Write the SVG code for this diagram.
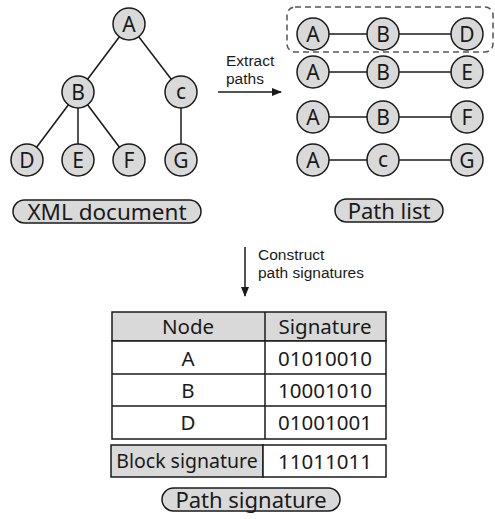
<svg xmlns="http://www.w3.org/2000/svg" width="495" height="519" viewBox="0 0 495 519">
<style>
.n circle{fill:#d9d9d9;stroke:#1a1a1a;stroke-width:1.5}
.t{font-family:"Noto Sans","Open Sans",sans-serif;fill:#1a1a1a;text-anchor:middle;dominant-baseline:central}
.c{font-size:21px}
.e line{stroke:#1a1a1a;stroke-width:1.5}
.pill{fill:#d9d9d9;stroke:#1a1a1a;stroke-width:1.5}
.lbl{font-family:"Liberation Sans",Arial,sans-serif;fill:#1a1a1a;font-size:15.5px}
.cell{stroke:#1a1a1a;stroke-width:1.5}
.tt{font-size:20.5px}
</style>
<defs>
<marker id="ah" markerWidth="10" markerHeight="8" refX="9" refY="4" orient="auto" markerUnits="userSpaceOnUse">
<path d="M0,0 L10,4 L0,8 z" fill="#1a1a1a"/>
</marker>
</defs>
<g id="connectors" class="e">
<line x1="129" y1="24" x2="78" y2="92"/>
<line x1="129" y1="24" x2="181" y2="92"/>
<line x1="78" y1="92" x2="27" y2="160"/>
<line x1="78" y1="92" x2="78" y2="160"/>
<line x1="78" y1="92" x2="129" y2="160"/>
<line x1="181" y1="92" x2="181" y2="160"/>
<line x1="313" y1="34" x2="467" y2="34"/>
<line x1="313" y1="72" x2="467" y2="72"/>
<line x1="313" y1="117" x2="467" y2="117"/>
<line x1="313" y1="160" x2="467" y2="160"/>
<line x1="218" y1="92" x2="281" y2="92" marker-end="url(#ah)"/>
<line x1="245" y1="247" x2="245" y2="296" marker-end="url(#ah)"/>
</g>
<g id="tree">
<g id="nA" class="n"><circle cx="129" cy="24" r="16"/><text class="t c" x="129" y="24">A</text></g>
<g id="nB" class="n"><circle cx="78" cy="92" r="16"/><text class="t c" x="78" y="92">B</text></g>
<g id="nC" class="n"><circle cx="181" cy="92" r="16"/><text class="t c" x="181" y="91">c</text></g>
<g id="nD" class="n"><circle cx="27" cy="160" r="16"/><text class="t c" x="27" y="160">D</text></g>
<g id="nE" class="n"><circle cx="78" cy="160" r="16"/><text class="t c" x="78" y="160">E</text></g>
<g id="nF" class="n"><circle cx="129" cy="160" r="16"/><text class="t c" x="129" y="160">F</text></g>
<g id="nG" class="n"><circle cx="181" cy="160" r="16"/><text class="t c" x="181" y="160">G</text></g>
</g>
<g id="xmldoc"><rect class="pill" x="13" y="200" width="188" height="23" rx="11.5"/><text class="t" x="107" y="211" font-size="22.5">XML document</text></g>
<g id="extract"><text class="lbl" x="226" y="66">Extract</text><text class="lbl" x="226" y="84">paths</text></g>
<g id="highlight"><rect x="287" y="7" width="206" height="45" rx="8" fill="none" stroke="#555" stroke-width="1.5" stroke-dasharray="6,4"/></g>
<g id="paths">
<g id="p1" class="n">
<circle cx="313" cy="34" r="16"/><text class="t c" x="313" y="34">A</text>
<circle cx="383" cy="34" r="16"/><text class="t c" x="383" y="34">B</text>
<circle cx="467" cy="34" r="16"/><text class="t c" x="467" y="34">D</text>
</g>
<g id="p2" class="n">
<circle cx="313" cy="72" r="16"/><text class="t c" x="313" y="72">A</text>
<circle cx="383" cy="72" r="16"/><text class="t c" x="383" y="72">B</text>
<circle cx="467" cy="72" r="16"/><text class="t c" x="467" y="72">E</text>
</g>
<g id="p3" class="n">
<circle cx="313" cy="117" r="16"/><text class="t c" x="313" y="117">A</text>
<circle cx="383" cy="117" r="16"/><text class="t c" x="383" y="117">B</text>
<circle cx="467" cy="117" r="16"/><text class="t c" x="467" y="117">F</text>
</g>
<g id="p4" class="n">
<circle cx="313" cy="160" r="16"/><text class="t c" x="313" y="160">A</text>
<circle cx="383" cy="160" r="16"/><text class="t c" x="383" y="159">c</text>
<circle cx="467" cy="160" r="16"/><text class="t c" x="467" y="160">G</text>
</g>
</g>
<g id="pathlist"><rect class="pill" x="335" y="199" width="108" height="23" rx="11.5"/><text class="t" x="389" y="210" font-size="22">Path list</text></g>
<g id="construct"><text class="lbl" x="258" y="260">Construct</text><text class="lbl" x="258" y="278">path signatures</text></g>
<g id="table">
<rect class="cell" x="112" y="312" width="274" height="29" fill="#d9d9d9"/>
<rect class="cell" x="112" y="341" width="274" height="98" fill="#fff"/>
<line class="cell" x1="112" y1="374" x2="386" y2="374"/>
<line class="cell" x1="112" y1="406" x2="386" y2="406"/>
<line class="cell" x1="265" y1="312" x2="265" y2="439"/>
<text class="t tt" x="188" y="326">Node</text><text class="t tt" x="325" y="326">Signature</text>
<text class="t tt" x="188" y="358">A</text><text class="t tt" x="325" y="358">01010010</text>
<text class="t tt" x="188" y="390">B</text><text class="t tt" x="325" y="390">10001010</text>
<text class="t tt" x="188" y="422">D</text><text class="t tt" x="325" y="422">01001001</text>
</g>
<g id="block">
<rect class="cell" x="111" y="445" width="152" height="32" fill="#d9d9d9"/>
<rect class="cell" x="263" y="445" width="123" height="32" fill="#fff"/>
<text class="t" x="187" y="460" font-size="19.5">Block signature</text><text class="t tt" x="325" y="461">11011011</text>
</g>
<g id="pathsig"><rect class="pill" x="162" y="488" width="178" height="23" rx="11.5"/><text class="t" x="251" y="499" font-size="22">Path signature</text></g>
</svg>
